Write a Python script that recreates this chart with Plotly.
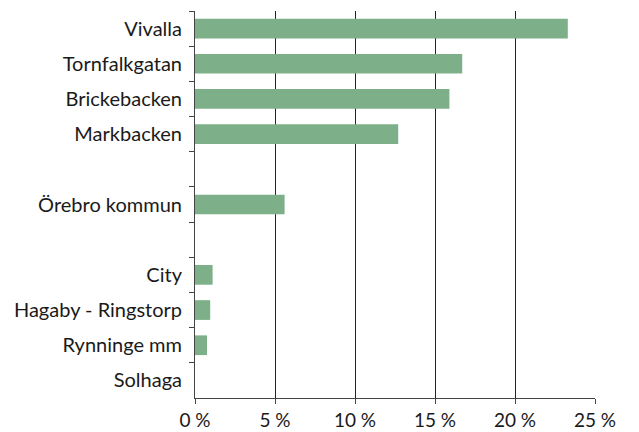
import plotly.graph_objects as go

categories = ["Vivalla", "Tornfalkgatan", "Brickebacken", "Markbacken", " ",
              "Örebro kommun", "  ", "City", "Hagaby - Ringstorp", "Rynninge mm", "Solhaga"]
values = [23.3, 16.7, 15.9, 12.7, None, 5.6, None, 1.1, 0.95, 0.75, 0.0]
x_ticks = [0, 5, 10, 15, 20, 25]
x_tick_labels = ["0 %", "5 %", "10 %", "15 %", "20 %", "25 %"]

FONT = "Lato, 'Noto Sans', sans-serif"

fig = go.Figure(go.Bar(
    x=values, y=categories, orientation="h",
    marker=dict(color="#7db089", line=dict(width=0)),
    hoverinfo="x+y",
))

fig.update_layout(
    width=631, height=424,
    margin=dict(l=187, r=44, t=3, b=34, autoexpand=False),
    paper_bgcolor="white", plot_bgcolor="white",
    bargap=0.44,
    showlegend=False,
    font=dict(family=FONT, size=19, color="#1a1a1a"),
)
fig.update_xaxes(
    range=[0, 25], tickvals=x_ticks, ticktext=x_tick_labels,
    showgrid=True, gridcolor="#222222", gridwidth=1,
    showline=True, linecolor="#444444", linewidth=1,
    ticks="outside", ticklen=5, tickcolor="#444444",
    zeroline=False, tickfont=dict(size=19), automargin=False,
)
fig.update_yaxes(
    type="category", categoryorder="array", categoryarray=categories,
    autorange="reversed",
    showline=True, linecolor="#444444", linewidth=1,
    ticks="outside", ticklen=5, tickcolor="#444444", tickson="boundaries",
    showgrid=False, ticklabelstandoff=8, tickfont=dict(size=20), automargin=False,
)

fig.write_html("out.html")
